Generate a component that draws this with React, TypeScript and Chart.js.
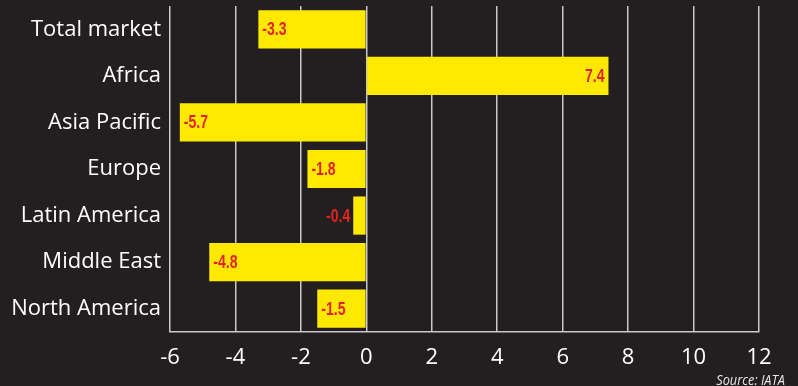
import React, { useEffect, useRef } from "react";
import { Chart, registerables } from "chart.js";

Chart.register(...registerables);

const categories = ["Total market", "Africa", "Asia Pacific", "Europe", "Latin America", "Middle East", "North America"];
const values = [-3.3, 7.4, -5.7, -1.8, -0.4, -4.8, -1.5];
const valueLabels = ["-3.3", "7.4", "-5.7", "-1.8", "-0.4", "-4.8", "-1.5"];
const xMin = -6;
const xMax = 12;
const xStep = 2;
const sourceText = "Source: IATA";

const BG = "#231f20";
const YELLOW = "#ffe900";
const RED = "#e42320";
const GRID = "#c9c9c9";
const LABEL_FONT = "'Liberation Sans Narrow', 'Arial Narrow', 'Liberation Sans', sans-serif";
const TEXT_FONT = "'Open Sans', 'Noto Sans', sans-serif";

export default function App() {
  const ref = useRef<HTMLCanvasElement | null>(null);

  useEffect(() => {
    document.body.style.margin = "0";
    document.body.style.background = BG;
    const canvas = ref.current;
    if (!canvas) return;

    const bgPlugin = {
      id: "bg",
      beforeDraw(chart: any) {
        const { ctx, width, height } = chart;
        ctx.save();
        ctx.fillStyle = BG;
        ctx.fillRect(0, 0, width, height);
        ctx.restore();
      },
    };

    const labelPlugin = {
      id: "valueLabels",
      afterDatasetsDraw(chart: any) {
        const { ctx } = chart;
        const meta = chart.getDatasetMeta(0);
        ctx.save();
        ctx.font = `bold 18px ${LABEL_FONT}`;
        ctx.fillStyle = RED;
        ctx.textBaseline = "middle";
        const sx = 0.78;
        meta.data.forEach((bar: any, i: number) => {
          const v = values[i];
          const text = valueLabels[i];
          const base = bar.base;
          const end = bar.x;
          const len = Math.abs(end - base);
          const tw = ctx.measureText(text).width * sx;
          let x: number;
          if (v >= 0) {
            x = end - 4 - tw;
          } else if (len > tw + 10) {
            x = end + 4;
          } else {
            x = end - 3 - tw;
          }
          ctx.save();
          ctx.translate(x, bar.y + 1);
          ctx.scale(sx, 1);
          ctx.textAlign = "left";
          ctx.fillText(text, 0, 0);
          ctx.restore();
        });
        ctx.restore();
      },
    };

    const sourcePlugin = {
      id: "source",
      afterDraw(chart: any) {
        const { ctx, width, height } = chart;
        ctx.save();
        ctx.font = `italic 15px ${TEXT_FONT}`;
        ctx.fillStyle = "#e6e6e6";
        ctx.textAlign = "right";
        ctx.textBaseline = "alphabetic";
        ctx.translate(width - 13, height - 1);
        ctx.scale(0.85, 1);
        ctx.fillText(sourceText, 0, 0);
        ctx.restore();
      },
    };

    const chart = new Chart(canvas, {
      type: "bar",
      data: {
        labels: categories,
        datasets: [
          {
            data: values,
            backgroundColor: YELLOW,
            borderWidth: 0,
            barPercentage: 0.82,
            categoryPercentage: 1,
          },
        ],
      },
      options: {
        indexAxis: "y",
        animation: false,
        responsive: false,
        devicePixelRatio: 1,
        layout: { padding: { left: 0, right: 39, top: 6, bottom: 0 } },
        plugins: {
          legend: { display: false },
          tooltip: { enabled: false },
        },
        scales: {
          x: {
            min: xMin,
            max: xMax,
            grid: { color: GRID, lineWidth: 1.5, drawTicks: false },
            border: { display: true, color: GRID, width: 1.5 },
            ticks: {
              stepSize: xStep,
              color: "#ffffff",
              padding: 13,
              font: { family: TEXT_FONT, size: 22 },
            },
            afterFit(scale: any) {
              scale.height = 54;
              scale.paddingLeft = 0;
              scale.paddingRight = 0;
            },
          },
          y: {
            grid: { display: false, drawTicks: false },
            border: { display: false },
            ticks: {
              color: "#ffffff",
              padding: 9,
              font: { family: TEXT_FONT, size: 22 },
            },
            afterFit(scale: any) {
              scale.width = 170;
              scale.paddingTop = 0;
              scale.paddingBottom = 0;
            },
          },
        },
      },
      plugins: [bgPlugin, labelPlugin, sourcePlugin],
    } as any);

    return () => chart.destroy();
  }, []);

  return (
    <div style={{ width: 798, height: 386, background: BG }}>
      <canvas ref={ref} width={798} height={386} style={{ display: "block" }} />
    </div>
  );
}
